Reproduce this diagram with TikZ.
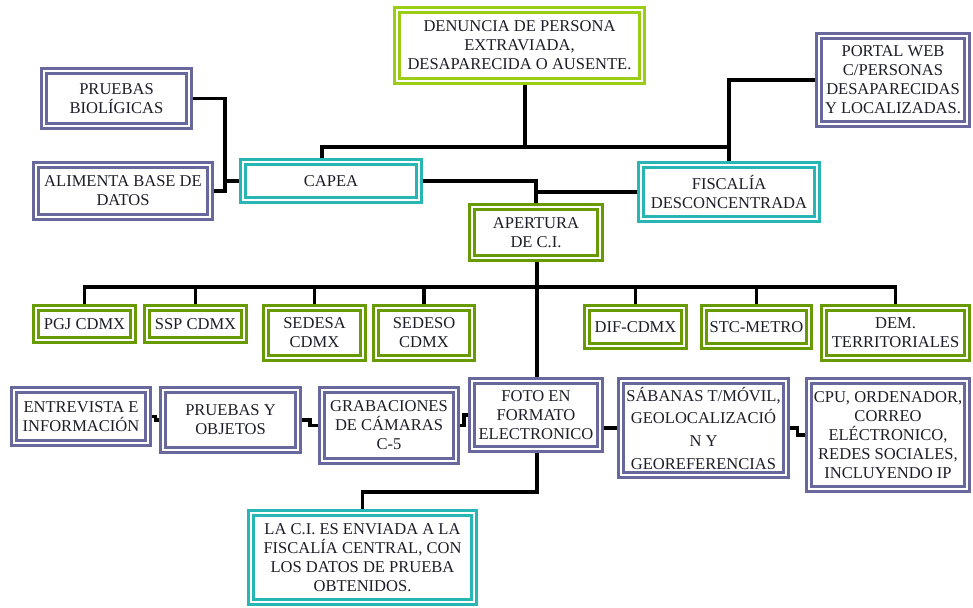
\documentclass[tikz,border=0pt]{standalone}
\usepackage{fontspec}
\setmainfont{Liberation Serif}
\usetikzlibrary{calc}
\definecolor{lgreen}{RGB}{155,205,20}
\definecolor{dgreen}{RGB}{104,154,4}
\definecolor{teal}{RGB}{40,182,180}
\definecolor{purp}{RGB}{104,104,156}
\definecolor{ink}{RGB}{28,28,40}
\begin{document}
\begin{tikzpicture}[x=0.75pt,y=-0.75pt,
  box/.style={draw=#1,line width=2.2pt,double=white,double distance=1.3pt,
    inner sep=0pt,outer sep=2.85pt,align=center,text=ink,
    font=\fontsize{12.4}{14.3}\selectfont},
  gbox/.style={box=lgreen},
  dbox/.style={box=dgreen},
  tbox/.style={box=teal},
  pbox/.style={box=purp},
  sz/.style 2 args={minimum width={(#1-7.6)*0.75pt},minimum height={(#2-7.6)*0.75pt}},
  conn/.style={draw=black,line width=2.3pt}]
\useasboundingbox (0,0) rectangle (973,607);
% nodes
\node[gbox,sz={253}{79}] (den) at (519.5,45.5) {DENUNCIA DE PERSONA\\EXTRAVIADA,\\DESAPARECIDA O AUSENTE.};
\node[pbox,sz={153}{63}] (pbio) at (116.5,98.5) {PRUEBAS\\BIOLÍGICAS};
\node[pbox,sz={182}{60}] (alim) at (123,191) {ALIMENTA BASE DE\\DATOS};
\node[tbox,sz={184}{46}] (capea) at (331,181) {CAPEA};
\node[pbox,sz={156}{96}] (portal) at (893,80) {PORTAL WEB\\C/PERSONAS\\DESAPARECIDAS\\Y LOCALIZADAS.};
\node[tbox,sz={184}{62}] (fisc) at (729,192) {FISCALÍA\\DESCONCENTRADA};
\node[dbox,sz={136}{59}] (apert) at (536,232.5) {APERTURA\\DE C.I.};
\node[dbox,sz={105}{40}] (pgj) at (84.5,324) {PGJ CDMX};
\node[dbox,sz={105}{40}] (ssp) at (195.5,324) {SSP CDMX};
\node[dbox,sz={105}{58}] (sedesa) at (314.5,333) {SEDESA\\CDMX};
\node[dbox,sz={104}{58}] (sedeso) at (424,333) {SEDESO\\CDMX};
\node[dbox,sz={105}{46}] (dif) at (635.5,327) {DIF-CDMX};
\node[dbox,sz={113}{46}] (stc) at (756.5,327) {STC-METRO};
\node[dbox,sz={151}{58}] (dem) at (895.5,333) {DEM.\\TERRITORIALES};
\node[pbox,sz={142}{61}] (entr) at (81,416.5) {ENTREVISTA E\\INFORMACIÓN};
\node[pbox,sz={143}{68}] (pyo) at (230.5,420) {PRUEBAS Y\\OBJETOS};
\node[pbox,sz={142}{79}] (grab) at (389,425.5) {GRABACIONES\\DE CÁMARAS\\C-5};
\node[pbox,sz={136}{76}] (foto) at (536,415) {FOTO EN\\FORMATO\\ELECTRONICO};
\node[pbox,sz={173}{102},font=\fontsize{12.4}{17}\selectfont] (sab) at (703.5,428) {SÁBANAS T/MÓVIL,\\GEOLOCALIZACIÓ\\N Y\\GEOREFERENCIAS};
\node[pbox,sz={166}{116}] (cpu) at (888,435) {CPU, ORDENADOR,\\CORREO\\ELÉCTRONICO,\\REDES SOCIALES,\\INCLUYENDO IP};
\node[tbox,sz={231}{97}] (laci) at (362.5,557.5) {LA C.I. ES ENVIADA A LA\\FISCALÍA CENTRAL, CON\\LOS DATOS DE PRUEBA\\OBTENIDOS.};
% junction coordinates
\coordinate (tj) at (322,147);
\coordinate (dj) at (525,147);
\coordinate (lj) at (225,181);
\coordinate (bus) at (537,287);
\coordinate (bj) at (537,492);
% connectors
\draw[conn] (den.south -| dj) -- (dj);
\draw[conn] (capea.north -| tj) -- (tj) -| (fisc.north);
\draw[conn] (fisc.north) |- (portal.west);
\draw[conn] (capea.east) -| (apert.north);
\draw[conn] (fisc.west) -| (apert.north);
\draw[conn] (pbio.east) -| (lj |- alim.east) -- (alim.east);
\draw[conn] (lj) -- (capea.west);
\draw[conn] (apert.south -| bus) -- (foto.north -| bus);
\draw[conn] (pgj.north) |- (bus) -| (dem.north);
\foreach \n in {ssp,sedesa,sedeso,dif,stc}{\draw[conn] (\n.north) -- (\n.north |- bus);}
\draw[conn] (foto.south -| bj) -- (bj) -| (laci.north);
\draw[conn] (entr.east) -| ($(entr.east)!.5!(pyo.west)$) |- (pyo.west);
\draw[conn] (pyo.east) -| ($(pyo.east)!.5!(grab.west)$) |- (grab.west);
\draw[conn] (grab.east) -| ($(grab.east)!.5!(foto.west)$) |- (foto.west);
\draw[conn] (foto.east |- sab.west) -- (sab.west);
\draw[conn] (sab.east) -| ($(sab.east)!.5!(cpu.west)$) |- (cpu.west);
\end{tikzpicture}
\end{document}
